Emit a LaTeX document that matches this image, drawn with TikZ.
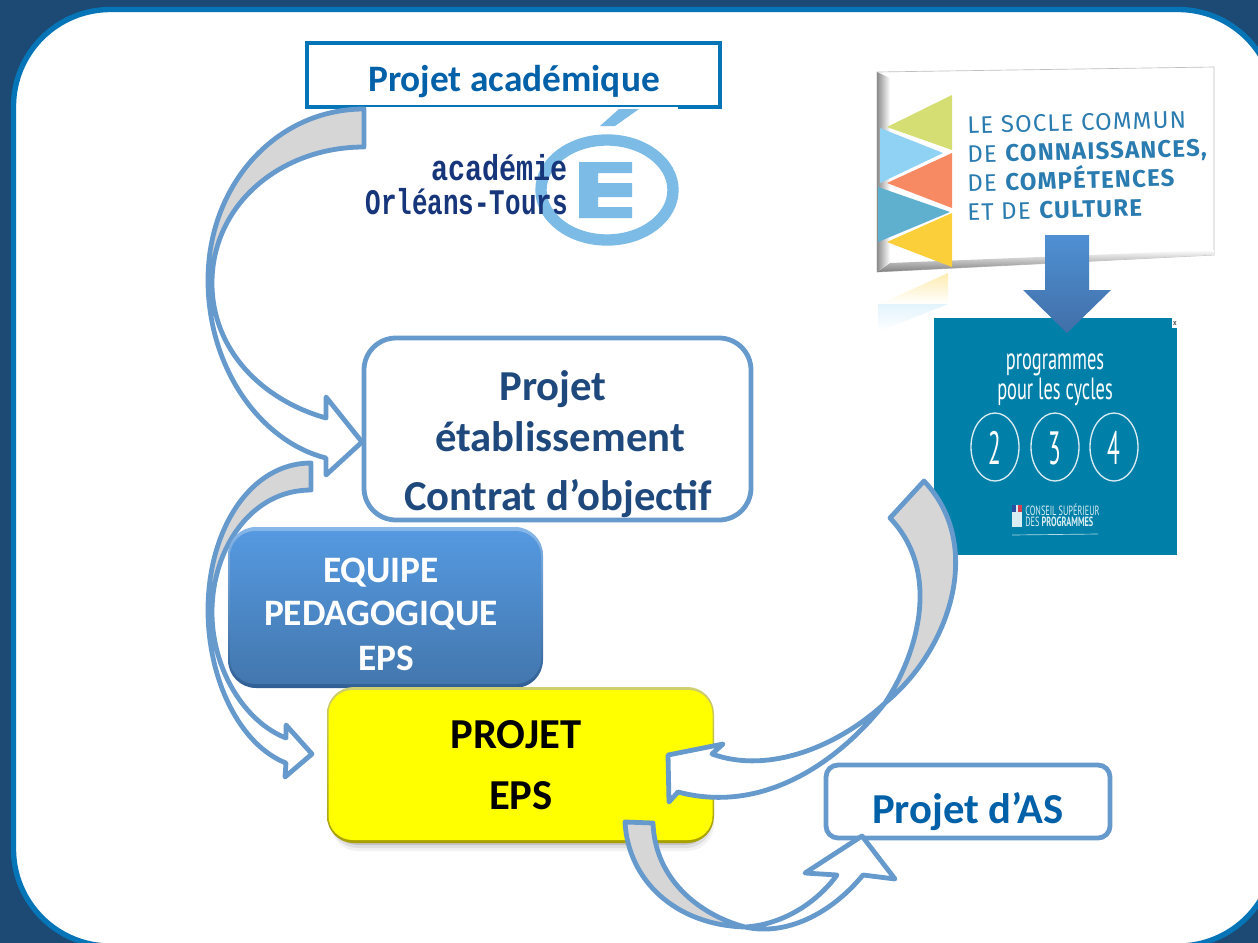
\documentclass[tikz,border=0pt]{standalone}
\usepackage{fontspec}
\setmainfont{Carlito}
\newfontfamily\progfont[FakeStretch=0.6]{PT Sans}
\newfontfamily\progthin[FakeStretch=0.5]{PT Sans}
\newfontfamily\cspfont[FakeStretch=0.62]{PT Sans}
\newfontfamily\socfont[LetterSpace=5]{Fira Sans}
\newfontfamily\logofont[FakeStretch=0.72]{Liberation Mono}
\newfontfamily\logowide[FakeStretch=0.79]{Liberation Mono}
\definecolor{bgdark}{HTML}{1C4A74}
\definecolor{panelblue}{HTML}{0575B8}
\definecolor{arrowblue}{HTML}{6699CC}
\definecolor{arrowgray}{HTML}{D6D6D6}
\definecolor{titleblue}{HTML}{0060A8}
\definecolor{navy}{HTML}{1F497D}
\definecolor{teal}{HTML}{0080A8}
\definecolor{logoblue}{HTML}{7CBBE6}
\definecolor{logonavy}{HTML}{16357A}
\definecolor{soctxt}{HTML}{2A7BB0}
\definecolor{socgreen}{HTML}{D4DE72}
\definecolor{soclight}{HTML}{8FD2F4}
\definecolor{socorange}{HTML}{F78A62}
\definecolor{socteal}{HTML}{5FB0CF}
\definecolor{socyellow}{HTML}{FBCF3A}
\definecolor{eqtop}{HTML}{5599E0}
\definecolor{eqbot}{HTML}{4377AE}
\definecolor{eqedge}{HTML}{2F5F95}
\definecolor{arrtop}{HTML}{4F90D3}
\definecolor{arrbot}{HTML}{416FA8}
\definecolor{pureyellow}{HTML}{FFFF00}
\definecolor{yeltop}{HTML}{CFCF70}
\definecolor{yelbot}{HTML}{A8A000}
\definecolor{flagblue}{HTML}{2A4FA0}
\definecolor{flagred}{HTML}{D04050}
\tikzset{
  blockoutline/.style={draw=arrowblue,line width=3.6pt,line join=round},
  boxtext/.style={font=\bfseries\fontsize{32}{36}\selectfont,align=center,inner sep=0pt},
  smalltext/.style={font=\bfseries\fontsize{28}{32}\selectfont,align=center,inner sep=0pt},
  socline/.style={anchor=west,rotate=1.5,inner sep=0pt,text height=13pt,text depth=0pt,text=soctxt,font=\socfont\fontsize{18}{20}\selectfont},
  progtext/.style={text=white,inner sep=0pt,font=\progfont\fontsize{23}{26}\selectfont},
  digit/.style={text=white,inner sep=0pt,font=\progthin\fontsize{35}{35}\selectfont},
  ring/.style={draw=white!85!teal,line width=1pt},
  csptext/.style={anchor=west,text=white!85!teal,inner sep=0pt,font=\cspfont\fontsize{10}{12}\selectfont},
  logotext/.style={anchor=east,inner sep=0pt,text=logonavy,font=\logofont\bfseries\fontsize{27}{27}\selectfont},
  logotextwide/.style={anchor=east,inner sep=0pt,text=logonavy,font=\logowide\bfseries\fontsize{27}{27}\selectfont}
}
\begin{document}
\begin{tikzpicture}[x=0.75pt,y=-0.75pt]
\useasboundingbox (0,0) rectangle (1258,943);
\fill[bgdark] (0,0) rectangle (1258,943);
\begin{scope}
\clip (0,0) rectangle (1258,943);
\draw[panelblue,fill=white,line width=4pt,rounded corners=72.75pt] (13.5,9.5) rectangle (1275,946);
\end{scope}

% Projet academique
\draw[panelblue,line width=3pt] (307,43) rectangle (720,107);
\fill[white] (360,106.5) rectangle (678,111);
\draw[panelblue,line width=1.4pt] (360,106.5) -- (678,106.5);
\node[smalltext,text=titleblue] (acad) at (514,82) {Projet académique};

% logo
\draw[logoblue,line width=8.5pt] (607,190) ellipse (66 and 50);
\fill[logoblue] (579,162) -- (632,162) -- (632,173) -- (598,173) -- (598,183) -- (632,183) -- (632,197) -- (598,197) -- (598,207) -- (632,207) -- (632,218) -- (579,218) -- cycle;
\fill[logoblue] (600,126) -- (615,126) -- (639,109) -- (619,109) -- cycle;
\node[logotextwide] (logoa) at (568,168) {académie};
\node[logotext] (logob) at (568,202) {Orléans-Tours};

% block arrow 1
\fill[white] (208,280) .. controls (208,370) and (262,442) .. (326,458) -- (326,475) -- (362,442) -- (326,397) -- (326,418) .. controls (262,400) and (212,350) .. (212,283) -- cycle;
\fill[arrowgray] (364,109) .. controls (276,109) and (208,185) .. (208,280) -- (212,283) .. controls (212,205) and (280,147) .. (364,147) -- cycle;
\draw[blockoutline] (364,109) .. controls (276,109) and (208,185) .. (208,280) .. controls (208,370) and (262,442) .. (326,458) -- (326,475) -- (362,442) -- (326,397) -- (326,418) .. controls (262,400) and (212,350) .. (212,283) .. controls (212,205) and (280,147) .. (364,147) -- cycle;

% Projet etablissement
\draw[arrowblue,fill=white,line width=3.6pt,rounded corners=24pt] (364,338) rectangle (751,520);
\node[boxtext,text=navy] (etab1) at (553,389) {Projet};
\node[boxtext,text=navy] (etab2) at (560,437) {établissement};
\node[boxtext,text=navy] (etab3) at (558,499) {Contrat d’objectif};

% block arrow 2
\fill[white] (208,610) .. controls (208,680) and (240,745) .. (286,763) -- (285,777) -- (312,754) -- (286,725) -- (286,738) .. controls (245,722) and (212,670) .. (212,612) -- cycle;
\fill[arrowgray] (311,463) .. controls (250,463) and (208,530) .. (208,610) -- (212,612) .. controls (212,550) and (250,490) .. (311,490) -- cycle;
\draw[blockoutline] (311,463) .. controls (250,463) and (208,530) .. (208,610) .. controls (208,680) and (240,745) .. (286,763) -- (285,777) -- (312,754) -- (286,725) -- (286,738) .. controls (245,722) and (212,670) .. (212,612) .. controls (212,550) and (250,490) .. (311,490) -- cycle;

% EQUIPE
\shade[top color=eqtop!70!white,bottom color=eqedge,rounded corners=21pt] (228,527) rectangle (543,688);
\shade[top color=eqtop,bottom color=eqbot,rounded corners=19pt] (230,531) rectangle (541,684);
\node[smalltext,text=white] (eq1) at (381,573) {EQUIPE};
\node[smalltext,text=white] (eq2) at (381,616) {PEDAGOGIQUE};
\node[smalltext,text=white] (eq3) at (386,658) {EPS};

% PROJET EPS
\foreach \d/\o in {8/0.05,5/0.08,2/0.12}{
  \fill[black,opacity=\o,rounded corners=20pt] (331,687+\d) rectangle (710+\d*0.5,843+\d);
}
\shade[top color=yeltop,bottom color=yelbot,rounded corners=20pt] (327,687) rectangle (714,843);
\fill[pureyellow,rounded corners=18pt] (328.5,690) rectangle (712.5,840);
\node[boxtext,text=black] (pr1) at (516,735) {PROJET};
\node[boxtext,text=black] (pr2) at (521,796) {EPS};

% Projet d'AS
\draw[arrowblue,fill=white,line width=3.6pt,rounded corners=9pt] (826,765) rectangle (1110,838);
\node[boxtext,text=titleblue] (as) at (968,812) {Projet d’AS};

% socle
\shade[top color=socyellow!40!white,bottom color=white] (948,273) -- (880,304) -- (948,304) -- cycle;
\shade[top color=soclight!25!white,bottom color=white] (878,304) -- (948,304) -- (878,332) -- cycle;
\draw[draw=black!25,fill=white,line width=0.5pt] (877,72) -- (1214,67) -- (1214,255) -- (877,272) -- cycle;
\shade[left color=black!45,right color=white] (877,72) -- (890,78) -- (890,262) -- (877,272) -- cycle;
\shade[top color=white,bottom color=black!50] (890,263) -- (1214,250) -- (1214,255) -- (877,272) -- cycle;
\fill[socgreen] (952,95) -- (887,127) -- (952,150) -- cycle;
\fill[soclight] (880,128) -- (943,153) -- (880,183) -- cycle;
\fill[socorange] (952,153) -- (887,183) -- (952,208) -- cycle;
\fill[socteal] (878,187) -- (950,212) -- (878,242) -- cycle;
\fill[socyellow] (952,213) -- (887,242) -- (952,267) -- cycle;
\node[socline] (s1) at (967,125) {LE SOCLE COMMUN};
\node[socline] (s2) at (967,154) {DE \textbf{CONNAISSANCES,}};
\node[socline] (s3) at (967,183) {DE \textbf{COMPÉTENCES}};
\node[socline] (s4) at (967,212) {ET DE \textbf{CULTURE}};

% programmes
\fill[teal] (934,318) rectangle (1177,555);
\fill[white] (1172,318) rectangle (1178,328);
\draw[black!60,line width=0.6pt] (1173.5,321) -- (1176,325) (1176,321) -- (1173.5,325);
\node[progtext] (p1) at (1055,365) {programmes};
\node[progtext] (p2) at (1055,392) {pour les cycles};
\draw[ring] (995,447) ellipse (24 and 34);
\draw[ring] (1055,447) ellipse (24 and 34);
\draw[ring] (1114,447) ellipse (24 and 34);
\node[digit] (d2) at (995,448) {2};
\node[digit] (d3) at (1055,448) {3};
\node[digit] (d4) at (1114,448) {4};
\fill[white!85!teal] (1012,505) rectangle (1022,527);
\fill[flagblue] (1012,505) rectangle (1016,512);
\fill[flagred] (1018,505) rectangle (1022,512);
\node[csptext] (c1) at (1025,510) {CONSEIL SUPÉRIEUR};
\node[csptext] (c2) at (1025,522) {DES \textbf{PROGRAMMES}};
\draw[white!70!teal,line width=0.5pt] (1012,535) -- (1098,534);

% big blue arrow
\shade[top color=arrtop,bottom color=arrbot] (1045,235) -- (1089,235) -- (1089,290) -- (1111,290) -- (1067,333) -- (1023,290) -- (1045,290) -- cycle;

% block arrow 3
\fill[white] (885,703) .. controls (840,760) and (765,815) .. (678,792) -- (669,802) -- (668,755) -- (723,744) -- (712,754) .. controls (770,775) and (840,745) .. (885,703) -- cycle;
\fill[arrowgray] (924,481) .. controls (985,545) and (950,650) .. (885,703) .. controls (920,650) and (940,570) .. (890,518) -- cycle;
\draw[blockoutline] (924,481) .. controls (985,545) and (950,650) .. (885,703) .. controls (840,760) and (765,815) .. (678,792) -- (669,802) -- (668,755) -- (723,744) -- (712,754) .. controls (770,775) and (840,745) .. (885,703) .. controls (920,650) and (940,570) .. (890,518) -- cycle;

% block arrow 4
\fill[white] (745,927) .. controls (785,936) and (830,915) .. (863,875) -- (895,879) -- (862,836) -- (805,873) -- (837,875) .. controls (815,905) and (780,925) .. (745,927) -- cycle;
\fill[arrowgray] (625,822) .. controls (628,880) and (675,925) .. (745,927) .. controls (700,915) and (655,880) .. (653,823) -- cycle;
\draw[blockoutline] (625,822) .. controls (628,880) and (675,925) .. (745,927) .. controls (785,936) and (830,915) .. (863,875) -- (895,879) -- (862,836) -- (805,873) -- (837,875) .. controls (815,905) and (780,925) .. (745,927) .. controls (700,915) and (655,880) .. (653,823) -- cycle;
\end{tikzpicture}
\end{document}
